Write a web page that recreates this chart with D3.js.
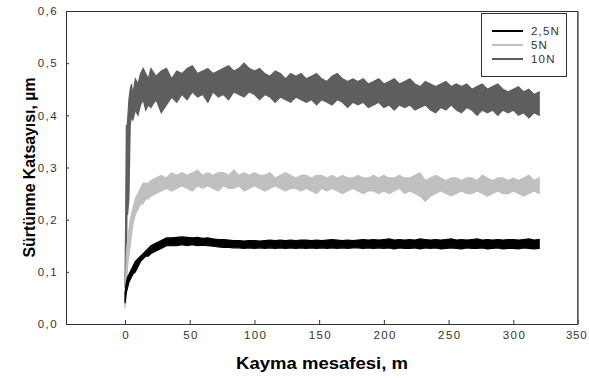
<!DOCTYPE html>
<html><head><meta charset="utf-8">
<script src="https://cdn.jsdelivr.net/npm/d3@7"></script>
<style>body{margin:0;background:#fff;} svg{display:block;}</style>
</head><body>
<svg id="c" width="589" height="378"></svg>
<script>
const seriesNames = ["2,5N", "5N", "10N"];
const seriesColors = ["#000000", "#c0c0c0", "#5e5e5e"];
const xTicks = [0, 50, 100, 150, 200, 250, 300, 350];
const yTicks = [0, 0.1, 0.2, 0.3, 0.4, 0.5, 0.6];
const xTitle = "Kayma mesafesi, m";
const yTitle = "Sürtünme Katsayısı, µm";

const dist = [0,0.5,1,1.5,2,3,4,5,6,8,10,12,14,16,18,
20,24,28,32,36,40,44,48,52,56,60,64,68,72,76,80,84,88,92,96,100,104,108,112,116,120,124,128,132,136,140,144,148,152,156,160,164,168,172,176,180,184,188,192,196,200,204,208,212,216,220,224,228,232,236,240,244,248,252,256,260,264,268,272,276,280,284,288,292,296,300,304,308,312,316,320];

const n10Lo = [0.07,0.08,0.10,0.21,0.21,0.24,0.38,0.40,0.39,0.41,0.40,0.42,0.43,0.41,0.42,
0.415,0.43,0.405,0.42,0.435,0.425,0.44,0.43,0.445,0.435,
0.44,0.425,0.445,0.435,0.44,0.43,0.445,0.44,0.435,0.445,
0.44,0.43,0.44,0.435,0.425,0.435,0.43,0.425,0.435,0.43,
0.425,0.43,0.42,0.43,0.425,0.42,0.43,0.425,0.415,0.425,
0.42,0.425,0.415,0.42,0.425,0.415,0.42,0.41,0.42,0.415,
0.42,0.41,0.415,0.42,0.41,0.405,0.415,0.41,0.42,0.41,
0.405,0.415,0.41,0.40,0.41,0.405,0.41,0.40,0.41,0.405,
0.41,0.40,0.405,0.395,0.405,0.40];
const n10Hi = [0.08,0.20,0.38,0.38,0.39,0.43,0.45,0.46,0.44,0.47,0.46,0.48,0.49,0.48,0.47,
0.49,0.475,0.485,0.49,0.47,0.485,0.48,0.49,0.495,0.48,
0.485,0.49,0.48,0.485,0.49,0.495,0.485,0.49,0.50,0.49,
0.485,0.49,0.48,0.475,0.485,0.48,0.47,0.48,0.475,0.48,
0.47,0.475,0.48,0.47,0.465,0.475,0.48,0.47,0.465,0.47,
0.465,0.47,0.46,0.465,0.47,0.46,0.465,0.47,0.46,0.465,
0.47,0.46,0.455,0.465,0.46,0.455,0.46,0.465,0.455,0.46,
0.455,0.46,0.45,0.455,0.46,0.45,0.455,0.46,0.45,0.445,
0.45,0.455,0.445,0.45,0.44,0.445];

const n5Lo = [0.03,0.04,0.06,0.09,0.11,0.13,0.15,0.17,0.19,0.21,0.22,0.23,0.23,0.24,0.24,
0.245,0.25,0.255,0.26,0.255,0.26,0.265,0.26,0.255,0.265,
0.26,0.265,0.26,0.255,0.265,0.26,0.26,0.265,0.255,0.26,
0.265,0.26,0.255,0.26,0.265,0.26,0.255,0.26,0.26,0.255,
0.26,0.255,0.25,0.26,0.255,0.26,0.255,0.25,0.255,0.26,
0.255,0.25,0.255,0.255,0.25,0.255,0.25,0.255,0.26,0.25,
0.255,0.25,0.245,0.235,0.245,0.25,0.255,0.25,0.245,0.25,
0.255,0.25,0.25,0.255,0.25,0.245,0.25,0.255,0.25,0.25,
0.255,0.25,0.245,0.25,0.255,0.25];
const n5Hi = [0.04,0.08,0.13,0.15,0.16,0.18,0.20,0.21,0.22,0.24,0.25,0.26,0.27,0.27,0.27,
0.275,0.28,0.285,0.28,0.29,0.285,0.29,0.285,0.29,0.295,
0.285,0.29,0.285,0.29,0.29,0.285,0.295,0.285,0.29,0.285,
0.29,0.285,0.285,0.29,0.28,0.285,0.29,0.285,0.28,0.285,
0.285,0.28,0.285,0.285,0.28,0.285,0.28,0.285,0.28,0.28,
0.285,0.28,0.28,0.285,0.28,0.285,0.28,0.28,0.285,0.28,
0.28,0.285,0.29,0.275,0.28,0.285,0.28,0.275,0.28,0.28,
0.275,0.28,0.28,0.275,0.285,0.28,0.275,0.28,0.28,0.275,
0.28,0.275,0.28,0.285,0.275,0.28];

const n25Lo = [0.04,0.05,0.06,0.065,0.07,0.08,0.085,0.09,0.095,0.10,0.11,0.12,0.125,0.13,0.13,
0.135,0.14,0.145,0.15,0.15,0.15,0.152,0.15,0.152,0.15,
0.151,0.15,0.149,0.148,0.147,0.147,0.146,0.146,0.145,0.146,
0.145,0.146,0.145,0.146,0.145,0.146,0.145,0.146,0.145,0.146,
0.145,0.146,0.145,0.146,0.145,0.146,0.145,0.146,0.145,0.146,
0.146,0.145,0.146,0.145,0.146,0.145,0.146,0.144,0.146,0.145,
0.145,0.146,0.144,0.146,0.145,0.146,0.144,0.145,0.146,0.145,
0.144,0.146,0.145,0.145,0.146,0.144,0.145,0.146,0.144,0.145,
0.145,0.144,0.146,0.145,0.144,0.145];
const n25Hi = [0.06,0.07,0.08,0.085,0.09,0.095,0.10,0.105,0.11,0.12,0.125,0.13,0.135,0.14,0.145,
0.15,0.155,0.16,0.165,0.165,0.166,0.167,0.166,0.165,0.166,
0.164,0.165,0.163,0.162,0.162,0.161,0.160,0.160,0.159,0.160,
0.160,0.159,0.160,0.161,0.160,0.161,0.160,0.161,0.160,0.161,
0.161,0.160,0.161,0.160,0.161,0.162,0.161,0.160,0.161,0.160,
0.161,0.162,0.161,0.162,0.161,0.162,0.163,0.161,0.162,0.161,
0.162,0.161,0.163,0.162,0.161,0.162,0.161,0.162,0.163,0.161,
0.162,0.161,0.162,0.163,0.161,0.162,0.161,0.162,0.161,0.162,
0.162,0.161,0.162,0.163,0.161,0.162];

const bands = [
  {name: seriesNames[0], color: seriesColors[0], lo: n25Lo, hi: n25Hi},
  {name: seriesNames[1], color: seriesColors[1], lo: n5Lo, hi: n5Hi},
  {name: seriesNames[2], color: seriesColors[2], lo: n10Lo, hi: n10Hi}
];

const svg = d3.select("#c");
const L = 66, R = 578, T = 11, B = 324;
const x = d3.scaleLinear().domain([-45.6, 350]).range([L, R]);
const y = d3.scaleLinear().domain([0, 0.6]).range([B, T]);
const font = "'Liberation Sans', Arial, sans-serif";

const area = d3.area()
  .x(d => x(d.x)).y0(d => y(d.lo)).y1(d => y(d.hi));
[2, 1, 0].forEach(i => {
  const b = bands[i];
  const pts = dist.map((dx, k) => ({x: dx, lo: b.lo[k], hi: b.hi[k]}));
  svg.append("path").datum(pts)
    .attr("d", area)
    .attr("fill", b.color)
    .attr("stroke", b.color)
    .attr("stroke-width", 1.2)
    .attr("stroke-linejoin", "miter");
});

const xAxis = d3.axisBottom(x).tickValues(xTicks).tickSizeInner(-4).tickSizeOuter(0).tickPadding(7).tickFormat(d3.format("d"));
const yAxis = d3.axisLeft(y).tickValues(yTicks).tickSizeInner(-3).tickSizeOuter(0).tickPadding(8)
  .tickFormat(d => d3.format(".1f")(d).replace(".", ","));

const gx = svg.append("g").attr("transform", `translate(0,${B})`).call(xAxis);
const gy = svg.append("g").attr("transform", `translate(${L},0)`).call(yAxis);
[gx, gy].forEach(g => {
  g.select(".domain").remove();
  g.selectAll(".tick line").attr("stroke", "#333").attr("stroke-width", 1);
  g.selectAll(".tick text").attr("fill", "#333").style("font-family", font)
    .style("font-size", "11.5px").style("letter-spacing", "1.4px");
});
gx.selectAll(".tick text").attr("dx", "0.7px");
// keep the last label inside the picture
gx.selectAll(".tick text").filter(d => d === 350)
  .attr("text-anchor", "end").attr("dx", "9px").style("letter-spacing", "0.8px");

svg.append("rect").attr("x", L + 0.5).attr("y", T + 0.5).attr("width", R - L - 1).attr("height", B - T)
  .attr("fill", "none").attr("stroke", "#333").attr("stroke-width", 1);
svg.append("line").attr("x1", R).attr("x2", R).attr("y1", T).attr("y2", B + 0.5)
  .attr("stroke", "#666").attr("stroke-width", 1.5);

svg.append("text").attr("x", (L + R) / 2).attr("y", 369).attr("text-anchor", "middle")
  .attr("textLength", 172).attr("lengthAdjust", "spacingAndGlyphs")
  .style("font-family", font).style("font-size", "16.5px").style("font-weight", "bold").attr("fill", "#000")
  .text(xTitle);
svg.append("text").attr("transform", `translate(35,${(T + B) / 2}) rotate(-90)`).attr("text-anchor", "middle")
  .attr("textLength", 180).attr("lengthAdjust", "spacingAndGlyphs")
  .style("font-family", font).style("font-size", "16.5px").style("font-weight", "bold").attr("fill", "#000")
  .text(yTitle);

const lg = svg.append("g");
lg.append("rect").attr("x", 481.5).attr("y", 13.5).attr("width", 85).attr("height", 63)
  .attr("fill", "#fff").attr("stroke", "#333").attr("stroke-width", 1);
bands.forEach((b, i) => {
  const yy = 31 + i * 14;
  lg.append("line").attr("x1", 492).attr("x2", 523).attr("y1", yy).attr("y2", yy)
    .attr("stroke", b.color).attr("stroke-width", 2);
  lg.append("text").attr("x", 531).attr("y", yy + 4)
    .style("font-family", font).style("font-size", "11.5px").style("letter-spacing", "1.2px")
    .attr("fill", "#333").text(b.name);
});
</script>
</body></html>
